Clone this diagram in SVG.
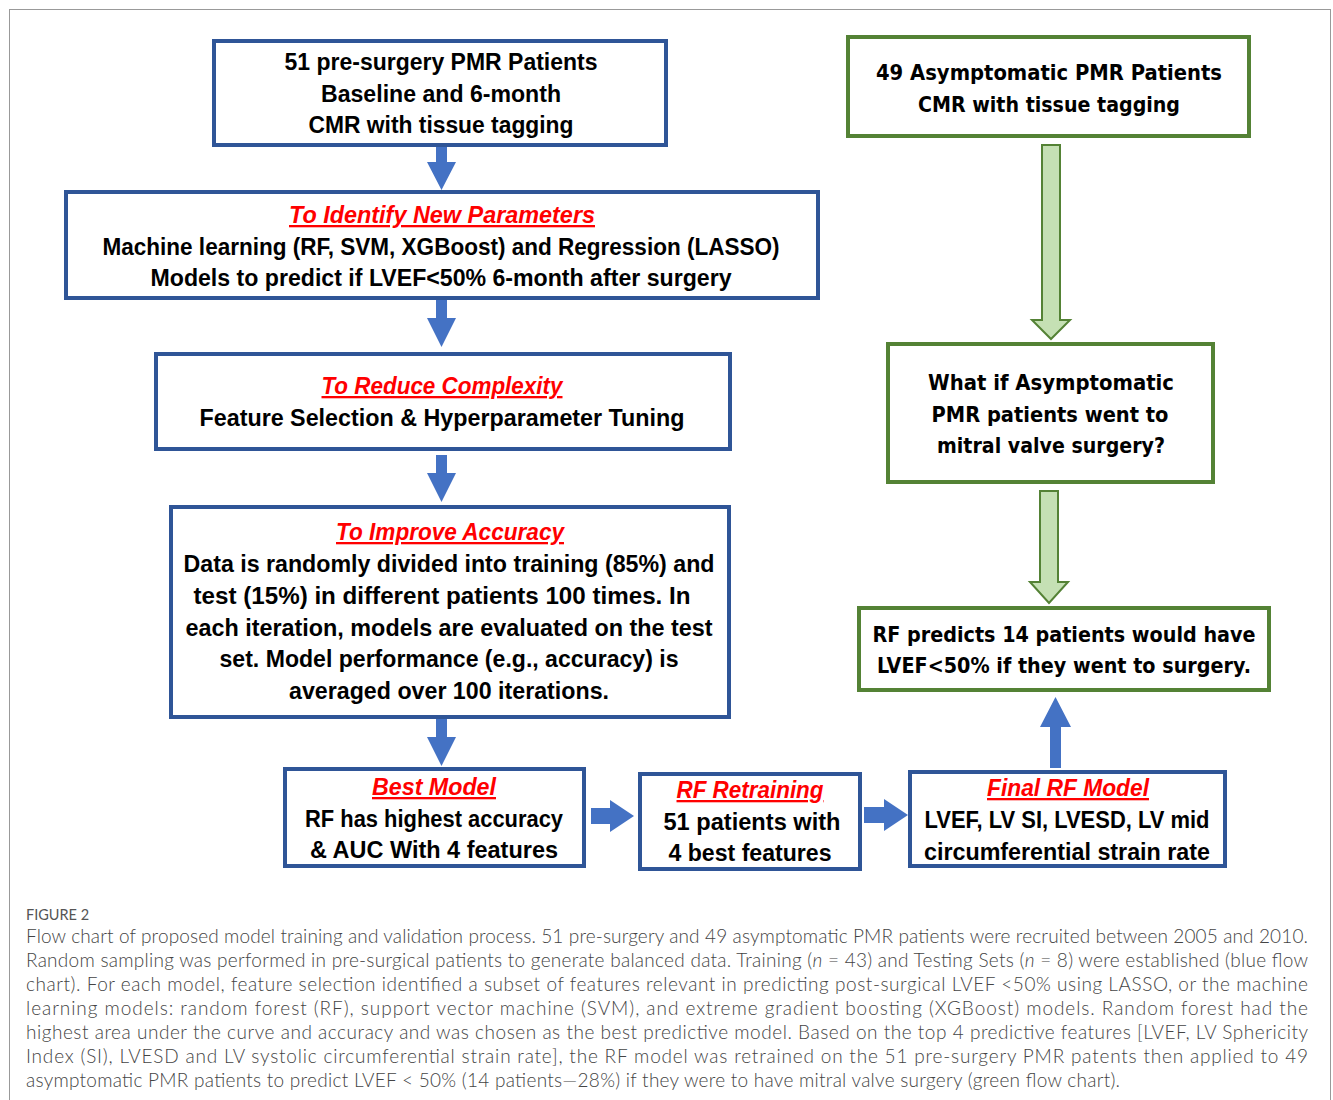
<svg xmlns="http://www.w3.org/2000/svg" width="1333" height="1100" viewBox="0 0 1333 1100">
<style>
.bb{fill:#fff;stroke:#2F5597;stroke-width:4}
.gb{fill:#fff;stroke:#548235;stroke-width:4}
.bt{font-family:"Liberation Sans",Arial,sans-serif;font-weight:bold;font-size:23px;fill:#000;text-anchor:middle}
.rt{font-family:"Liberation Sans",Arial,sans-serif;font-weight:bold;font-style:italic;font-size:23px;fill:#FF0000;text-anchor:middle;text-decoration:underline}
.gt{font-family:"DejaVu Sans",Verdana,sans-serif;font-weight:bold;font-size:21px;fill:#000;text-anchor:middle}
.ba{fill:#4472C4}
.ga{fill:#C5E0B4;stroke:#548235;stroke-width:2}
.cap{font-family:Lato,"Open Sans",sans-serif;font-weight:300;font-size:19px;fill:#444}
.fig{font-family:Lato,"Open Sans",sans-serif;font-size:14.5px;fill:#555}
</style>
<rect x="0" y="0" width="1333" height="1100" fill="#fff"/>
<rect x="9.5" y="9.5" width="1321" height="1100" fill="none" stroke="#999" stroke-width="1"/>

<g id="connectors">
  <polygon class="ba" points="436,146 447,146 447,162 456,162 441.5,190 427,162 436,162"/>
  <polygon class="ba" points="436,300 447,300 447,318 456,318 441.5,347 427,318 436,318"/>
  <polygon class="ba" points="436,455 447,455 447,473 456,473 441.5,502 427,473 436,473"/>
  <polygon class="ba" points="436,719 447,719 447,737 456,737 441.5,766 427,737 436,737"/>
  <polygon class="ba" points="591,808 610,808 610,800 634,816 610,832 610,824 591,824"/>
  <polygon class="ba" points="864,807 884,807 884,799 908,815 884,831 884,823 864,823"/>
  <polygon class="ba" points="1050,768 1061,768 1061,727 1071,727 1055.5,697 1040,727 1050,727"/>
  <polygon class="ga" points="1042,145 1060,145 1060,320 1070,320 1051,339 1032,320 1042,320"/>
  <polygon class="ga" points="1040,491 1058,491 1058,582 1068,582 1049,603 1030,582 1040,582"/>
</g>

<g id="n1">
  <rect class="bb" x="214" y="41" width="452" height="104"/>
  <text class="bt" x="441" y="70" textLength="313" lengthAdjust="spacingAndGlyphs">51 pre-surgery PMR Patients</text>
  <text class="bt" x="441" y="102" textLength="240" lengthAdjust="spacingAndGlyphs">Baseline and 6-month</text>
  <text class="bt" x="441" y="133" textLength="265" lengthAdjust="spacingAndGlyphs">CMR with tissue tagging</text>
</g>
<g id="n2">
  <rect class="bb" x="66" y="192" width="752" height="106"/>
  <text class="rt" x="442" y="223" textLength="306" lengthAdjust="spacingAndGlyphs">To Identify New Parameters</text>
  <text class="bt" x="441" y="255" textLength="677" lengthAdjust="spacingAndGlyphs">Machine learning (RF, SVM, XGBoost) and Regression (LASSO)</text>
  <text class="bt" x="441" y="286" textLength="581" lengthAdjust="spacingAndGlyphs">Models to predict if LVEF&lt;50% 6-month after surgery</text>
</g>
<g id="n3">
  <rect class="bb" x="156" y="354" width="574" height="95"/>
  <text class="rt" x="442" y="394" textLength="241" lengthAdjust="spacingAndGlyphs">To Reduce Complexity</text>
  <text class="bt" x="442" y="426" textLength="485" lengthAdjust="spacingAndGlyphs">Feature Selection &amp; Hyperparameter Tuning</text>
</g>
<g id="n4">
  <rect class="bb" x="171" y="507" width="558" height="210"/>
  <text class="rt" x="450" y="540" textLength="228" lengthAdjust="spacingAndGlyphs">To Improve Accuracy</text>
  <text class="bt" x="449" y="572" textLength="531" lengthAdjust="spacingAndGlyphs">Data is randomly divided into training (85%) and</text>
  <text class="bt" x="442" y="604" textLength="497" lengthAdjust="spacingAndGlyphs">test (15%) in different patients 100 times. In</text>
  <text class="bt" x="449" y="636" textLength="527" lengthAdjust="spacingAndGlyphs">each iteration, models are evaluated on the test</text>
  <text class="bt" x="449" y="667" textLength="459" lengthAdjust="spacingAndGlyphs">set. Model performance (e.g., accuracy) is</text>
  <text class="bt" x="449" y="699" textLength="320" lengthAdjust="spacingAndGlyphs">averaged over 100 iterations.</text>
</g>
<g id="n5">
  <rect class="bb" x="285" y="769" width="299" height="97"/>
  <text class="rt" x="434" y="795" textLength="124" lengthAdjust="spacingAndGlyphs">Best Model</text>
  <text class="bt" x="434" y="827" textLength="258" lengthAdjust="spacingAndGlyphs">RF has highest accuracy</text>
  <text class="bt" x="434" y="858" textLength="248" lengthAdjust="spacingAndGlyphs">&amp; AUC With 4 features</text>
</g>
<g id="n6">
  <rect class="bb" x="640" y="774" width="220" height="95"/>
  <text class="rt" x="750" y="798" textLength="147" lengthAdjust="spacingAndGlyphs">RF Retraining</text>
  <text class="bt" x="752" y="830" textLength="177" lengthAdjust="spacingAndGlyphs">51 patients with</text>
  <text class="bt" x="750" y="861" textLength="163" lengthAdjust="spacingAndGlyphs">4 best features</text>
</g>
<g id="n7">
  <rect class="bb" x="910" y="772" width="315" height="94"/>
  <text class="rt" x="1068" y="796" textLength="162" lengthAdjust="spacingAndGlyphs">Final RF Model</text>
  <text class="bt" x="1067" y="828" textLength="285" lengthAdjust="spacingAndGlyphs">LVEF, LV SI, LVESD, LV mid</text>
  <text class="bt" x="1067" y="860" textLength="286" lengthAdjust="spacingAndGlyphs">circumferential strain rate</text>
</g>

<g id="g1">
  <rect class="gb" x="848" y="37" width="401" height="99"/>
  <text class="gt" x="1049" y="80" textLength="346" lengthAdjust="spacingAndGlyphs">49 Asymptomatic PMR Patients</text>
  <text class="gt" x="1049" y="112" textLength="262" lengthAdjust="spacingAndGlyphs">CMR with tissue tagging</text>
</g>
<g id="g2">
  <rect class="gb" x="888" y="344" width="325" height="138"/>
  <text class="gt" x="1051" y="390" textLength="246" lengthAdjust="spacingAndGlyphs">What if Asymptomatic</text>
  <text class="gt" x="1050" y="422" textLength="237" lengthAdjust="spacingAndGlyphs">PMR patients went to</text>
  <text class="gt" x="1051" y="453" textLength="228" lengthAdjust="spacingAndGlyphs">mitral valve surgery?</text>
</g>
<g id="g3">
  <rect class="gb" x="859" y="608" width="410" height="82"/>
  <text class="gt" x="1064" y="642" textLength="383" lengthAdjust="spacingAndGlyphs">RF predicts 14 patients would have</text>
  <text class="gt" x="1064" y="673" textLength="374" lengthAdjust="spacingAndGlyphs">LVEF&lt;50% if they went to surgery.</text>
</g>

<g id="caption">
  <text class="fig" x="26" y="920">FIGURE 2</text>
  <text class="cap" x="26" y="943" textLength="1282" lengthAdjust="spacing">Flow chart of proposed model training and validation process. 51 pre-surgery and 49 asymptomatic PMR patients were recruited between 2005 and 2010.</text>
  <text class="cap" x="26" y="967" textLength="1282" lengthAdjust="spacing">Random sampling was performed in pre-surgical patients to generate balanced data. Training (<tspan font-style="italic">n</tspan> = 43) and Testing Sets (<tspan font-style="italic">n</tspan> = 8) were established (blue flow</text>
  <text class="cap" x="26" y="991" textLength="1282" lengthAdjust="spacing">chart). For each model, feature selection identified a subset of features relevant in predicting post-surgical LVEF &lt;50% using LASSO, or the machine</text>
  <text class="cap" x="26" y="1015" textLength="1282" lengthAdjust="spacing">learning models: random forest (RF), support vector machine (SVM), and extreme gradient boosting (XGBoost) models. Random forest had the</text>
  <text class="cap" x="26" y="1039" textLength="1282" lengthAdjust="spacing">highest area under the curve and accuracy and was chosen as the best predictive model. Based on the top 4 predictive features [LVEF, LV Sphericity</text>
  <text class="cap" x="26" y="1063" textLength="1282" lengthAdjust="spacing">Index (SI), LVESD and LV systolic circumferential strain rate], the RF model was retrained on the 51 pre-surgery PMR patents then applied to 49</text>
  <text class="cap" x="26" y="1087" textLength="1094" lengthAdjust="spacing">asymptomatic PMR patients to predict LVEF &lt; 50% (14 patients—28%) if they were to have mitral valve surgery (green flow chart).</text>
</g>
</svg>
